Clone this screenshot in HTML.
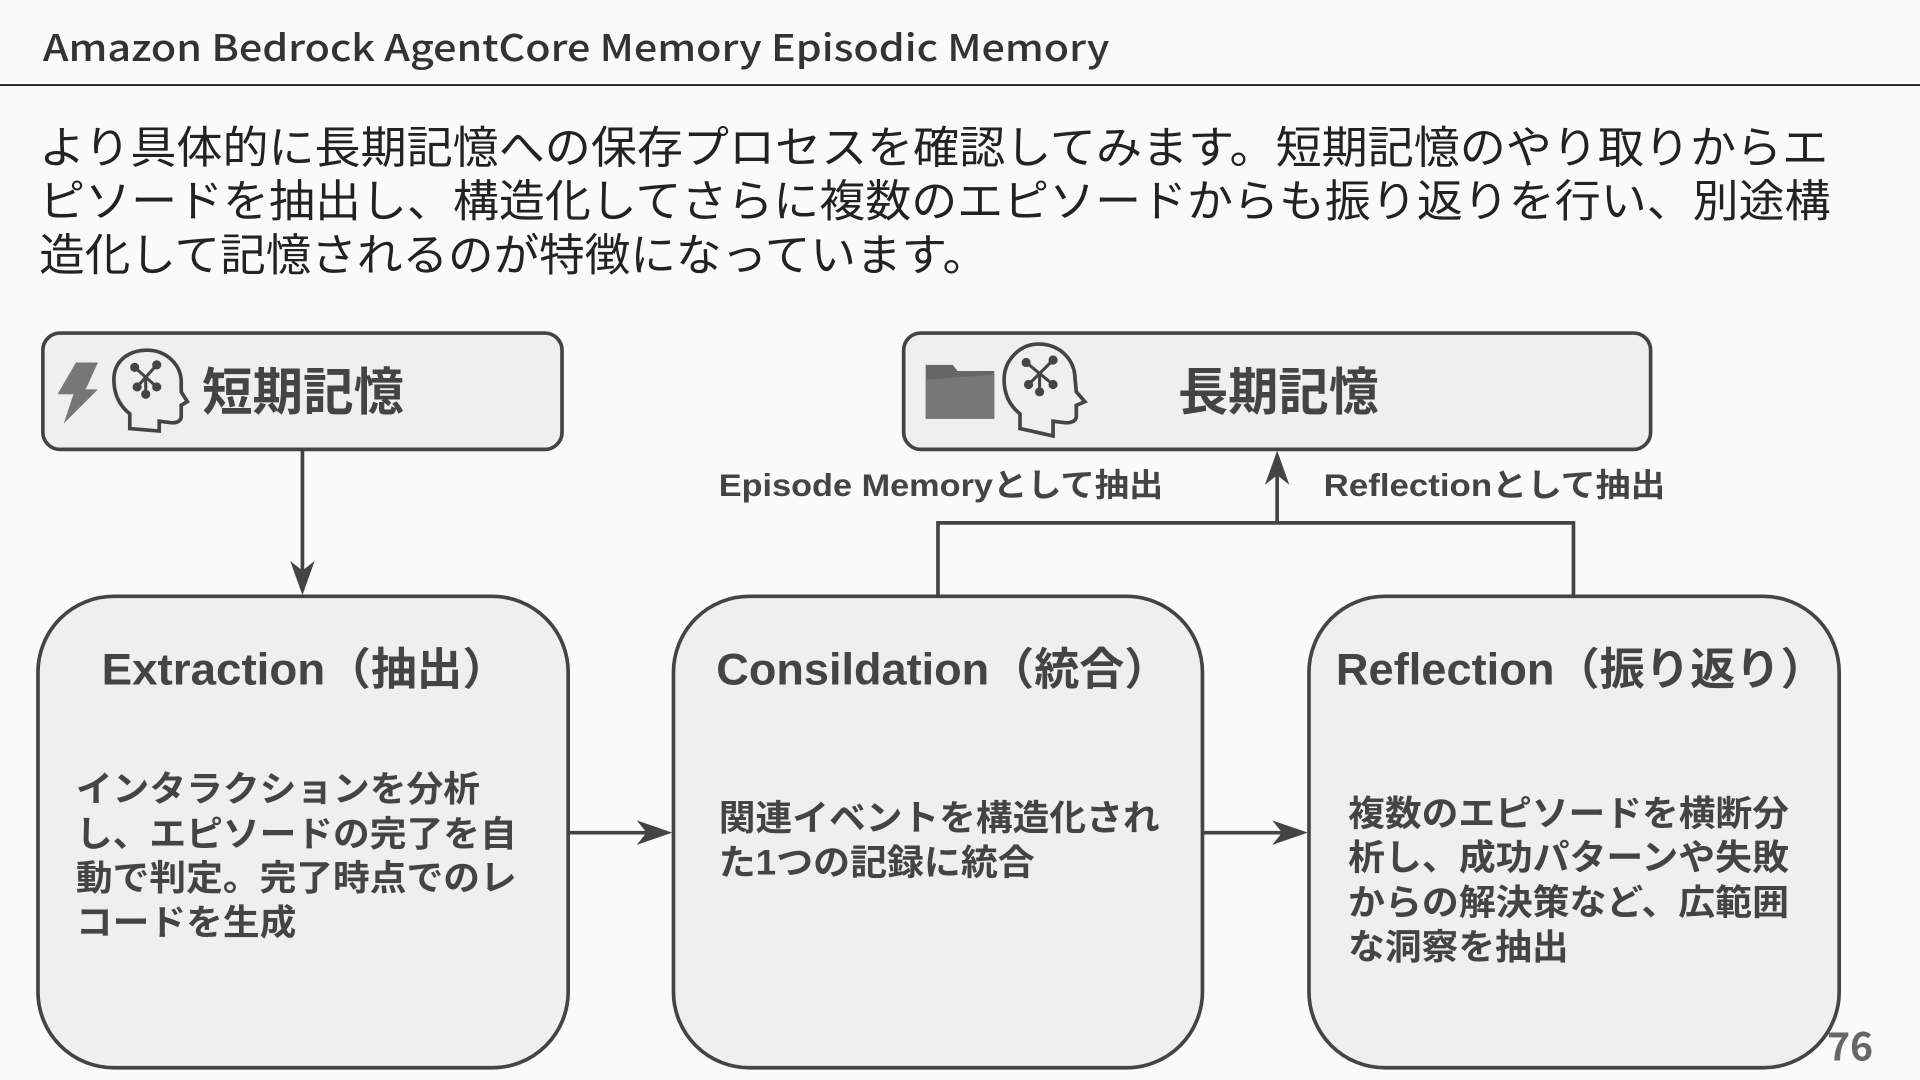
<!DOCTYPE html>
<html><head><meta charset="utf-8"><style>
html,body{margin:0;padding:0;background:#fafafa;}
svg{display:block;}
text{font-family:"Liberation Sans","Noto Sans CJK JP",sans-serif;fill:#444;}
</style></head><body>
<svg width="1920" height="1080" viewBox="0 0 1568 882" preserveAspectRatio="none" xmlns="http://www.w3.org/2000/svg">
<rect width="1568" height="882" fill="#fafafa"/>
<text x="35" y="50" font-size="30" font-weight="500" textLength="871" lengthAdjust="spacingAndGlyphs" style="font-family:'Noto Sans CJK JP',sans-serif;fill:#333">Amazon Bedrock AgentCore Memory Episodic Memory</text>
<line x1="0" y1="69.5" x2="1568" y2="69.5" stroke="#222" stroke-width="1.5"/>
<g font-size="36" style="font-family:'Noto Sans CJK JP',sans-serif">
<text x="32" y="133" textLength="1461" lengthAdjust="spacingAndGlyphs" style="fill:#222">より具体的に長期記憶への保存プロセスを確認してみます。短期記憶のやり取りからエ</text>
<text x="32" y="177" textLength="1463" lengthAdjust="spacingAndGlyphs" style="fill:#222">ピソードを抽出し、構造化してさらに複数のエピソードからも振り返りを行い、別途構</text>
<text x="32" y="221" textLength="775" lengthAdjust="spacingAndGlyphs" style="fill:#222">造化して記憶されるのが特徴になっています。</text>
</g>
<g fill="#efefef" stroke="#444" stroke-width="3">
<rect x="35" y="272" width="424" height="95" rx="14"/>
<rect x="738" y="272" width="610" height="95" rx="14"/>
<rect x="31" y="487" width="433" height="385" rx="62"/>
<rect x="550" y="487" width="432" height="385" rx="62"/>
<rect x="1069" y="487" width="433" height="385" rx="62"/>
</g>
<polygon points="62,296 80,296 70,318 80,318 52,346 60,322 47,322" fill="#777"/>
<g fill="none" stroke="#444" stroke-width="3">
<path d="M106,350 L106,338 C96,330 93,320 93,310 C93,294 106,286 120,286 C136,286 148,298 148,312 L148,320 L153,328 L148,331 L148,340 C148,344 144,346 138,345 L130,344 L130,352 Z"/>
<path d="M833,350 L833,338 C823,330 820,320 820,310 C820,294 833,281 848,281 C866,281 878,294 878,310 L879,320 L886,328 L879,331 L879,340 C879,344 874,346 868,345 L860,344 L860,356 Z"/>
</g>
<g stroke="#444" stroke-width="2.5" fill="#444">
<line x1="110" y1="300" x2="128" y2="316"/><line x1="128" y1="298" x2="112" y2="316"/><line x1="119" y1="307" x2="119" y2="322"/>
<circle cx="110" cy="300" r="2.5"/><circle cx="128" cy="298" r="2.5"/><circle cx="112" cy="316" r="2.5"/><circle cx="128" cy="316" r="2.5"/><circle cx="119" cy="322" r="2.5"/>
<line x1="838" y1="296" x2="860" y2="314"/><line x1="860" y1="294" x2="840" y2="314"/><line x1="849" y1="304" x2="849" y2="320"/>
<circle cx="838" cy="296" r="2.5"/><circle cx="860" cy="294" r="2.5"/><circle cx="840" cy="314" r="2.5"/><circle cx="860" cy="314" r="2.5"/><circle cx="849" cy="320" r="2.5"/>
</g>
<path d="M756,298 L778,298 L782,303 L812,303 L812,342 L756,342 Z" fill="#666"/>
<path d="M756,310 L812,306 L812,342 L756,342 Z" fill="#777"/>
<g font-weight="bold" style="font-family:'Noto Sans CJK JP',sans-serif">
<text x="165" y="335" font-size="42" textLength="165" lengthAdjust="spacingAndGlyphs">短期記憶</text>
<text x="962" y="335" font-size="42" textLength="164" lengthAdjust="spacingAndGlyphs">長期記憶</text>
<text x="83" y="559" font-size="36" textLength="332" lengthAdjust="spacingAndGlyphs">Extraction（抽出）</text>
<text x="585" y="559" font-size="36" textLength="370" lengthAdjust="spacingAndGlyphs">Consildation（統合）</text>
<text x="1091" y="559" font-size="36" textLength="400" lengthAdjust="spacingAndGlyphs">Reflection（振り返り）</text>
<text x="587" y="405" font-size="26" textLength="363" lengthAdjust="spacingAndGlyphs">Episode Memoryとして抽出</text>
<text x="1081" y="405" font-size="26" textLength="279" lengthAdjust="spacingAndGlyphs">Reflectionとして抽出</text>
</g>
<g font-size="29" font-weight="bold" style="font-family:'Noto Sans CJK JP',sans-serif">
<text x="62" y="654" textLength="330" lengthAdjust="spacingAndGlyphs">インタラクションを分析</text>
<text x="62" y="691" textLength="360" lengthAdjust="spacingAndGlyphs">し、エピソードの完了を自</text>
<text x="62" y="727" textLength="360" lengthAdjust="spacingAndGlyphs">動で判定。完了時点でのレ</text>
<text x="62" y="763" textLength="180" lengthAdjust="spacingAndGlyphs">コードを生成</text>
<text x="587" y="678" textLength="360" lengthAdjust="spacingAndGlyphs">関連イベントを構造化され</text>
<text x="587" y="714" textLength="258" lengthAdjust="spacingAndGlyphs">た1つの記録に統合</text>
<text x="1101" y="674" textLength="360" lengthAdjust="spacingAndGlyphs">複数のエピソードを横断分</text>
<text x="1101" y="710" textLength="360" lengthAdjust="spacingAndGlyphs">析し、成功パターンや失敗</text>
<text x="1101" y="747" textLength="360" lengthAdjust="spacingAndGlyphs">からの解決策など、広範囲</text>
<text x="1101" y="783" textLength="180" lengthAdjust="spacingAndGlyphs">な洞察を抽出</text>
</g>
<g stroke="#444" stroke-width="3" fill="none">
<line x1="247" y1="367" x2="247" y2="482"/>
<line x1="464" y1="680" x2="545" y2="680"/>
<line x1="982" y1="680" x2="1064" y2="680"/>
<polyline points="766,487 766,427 1285,427 1285,487"/>
<line x1="1043" y1="427" x2="1043" y2="372"/>
</g>
<g fill="#444">
<polygon points="237,458 247,486 257,458 247,466"/>
<polygon points="520,670 549,680 520,690 528,680"/>
<polygon points="1039,670 1068,680 1039,690 1047,680"/>
<polygon points="1033,396 1043,368 1053,396 1043,388"/>
</g>
<text x="1492" y="866" font-size="32" font-weight="bold" style="fill:#666;font-family:'Noto Sans CJK JP',sans-serif">76</text>
</svg>
</body></html>
